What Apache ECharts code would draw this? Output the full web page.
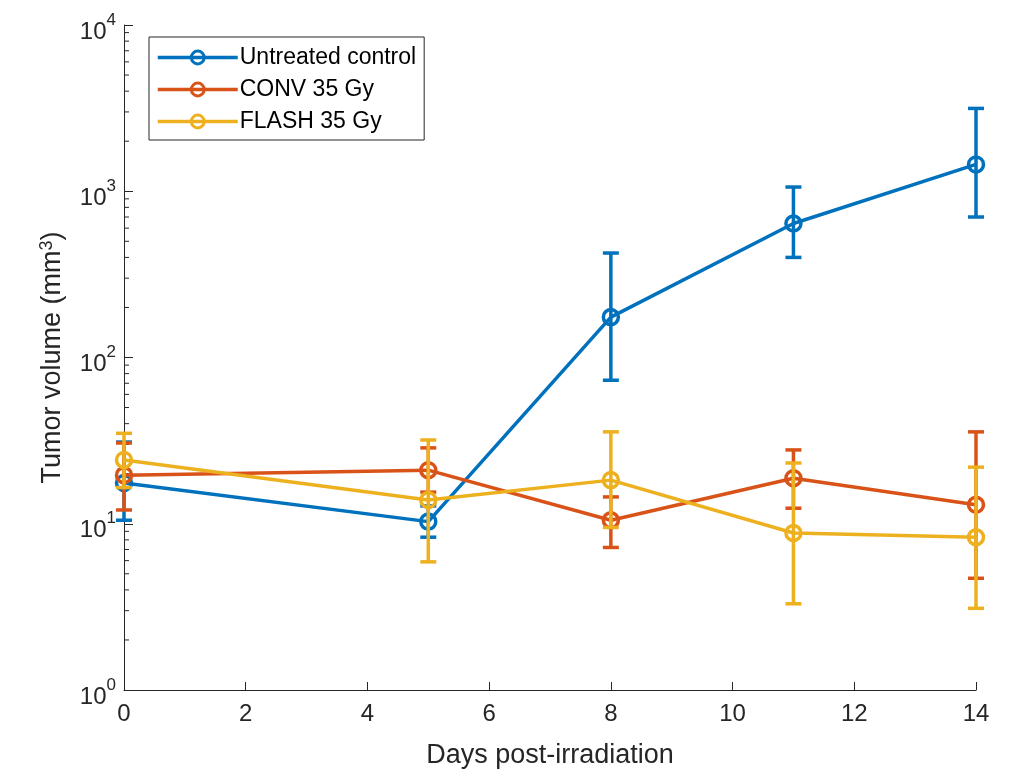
<!DOCTYPE html>
<html>
<head>
<meta charset="utf-8">
<script src="https://cdn.jsdelivr.net/npm/echarts@6/dist/echarts.min.js"></script>
<style>
html,body{margin:0;padding:0;background:#fff;}
#main{width:1015px;height:777px;}
</style>
</head>
<body>
<div id="main"></div>
<script>
// days after irradiation
var days = [0, 5, 8, 11, 14];

// untreated control : mean, lower and upper end of error bar
var ctrlMean = [17.6, 10.3, 175, 640, 1450];
var ctrlLo = [10.5, 8.3, 73, 400, 700];
var ctrlHi = [31, 12.8, 425, 1060, 3150];

// CONV 35 Gy
var convMean = [19.6, 21, 10.5, 18.8, 13];
var convLo = [12.1, 15.5, 7.2, 12.4, 4.7];
var convHi = [30.6, 28.6, 14.5, 27.8, 35.7];

// FLASH 35 Gy
var flashMean = [24.2, 13.9, 18.3, 8.8, 8.3];
var flashLo = [16.5, 5.9, 9.5, 3.3, 3.1];
var flashHi = [35, 31.9, 35.7, 23.2, 21.9];

var seriesNames = ['Untreated control', 'CONV 35 Gy', 'FLASH 35 Gy'];
var colors = ['#0072BD', '#D95319', '#EDB120'];

// minor ticks of the log axis (2..9 x 10^n)
var minorTickValues = [];
for (var n = 0; n < 4; n++) {
	for (var k = 2; k < 10; k++) {
		minorTickValues.push(k * Math.pow(10, n));
	}
}

function pairs(mean) {
	var out = [];
	for (var i = 0; i < days.length; i++) {
		out.push([days[i], mean[i]]);
	}
	return out;
}

function errData(lo, hi) {
	var out = [];
	for (var i = 0; i < days.length; i++) {
		out.push([days[i], lo[i], hi[i]]);
	}
	return out;
}

function errSeries(name, lo, hi, color, z) {
	return {
		name: name,
		type: 'custom',
		z: z,
		silent: true,
		data: errData(lo, hi),
		encode: { x: 0, y: [1, 2] },
		renderItem: function(params, api) {
			var top = api.coord([api.value(0), api.value(2)]);
			var bot = api.coord([api.value(0), api.value(1)]);
			var w = 8;
			var st = { stroke: color, lineWidth: 3.5 };
			return {
				type: 'group',
				children: [
					{ type: 'line', shape: { x1: top[0], y1: top[1], x2: bot[0], y2: bot[1] }, style: st },
					{ type: 'line', shape: { x1: top[0] - w, y1: top[1], x2: top[0] + w, y2: top[1] }, style: st },
					{ type: 'line', shape: { x1: bot[0] - w, y1: bot[1], x2: bot[0] + w, y2: bot[1] }, style: st }
				]
			};
		}
	};
}

function lineSeries(name, mean, color, z) {
	return {
		name: name,
		type: 'line',
		z: z,
		data: pairs(mean),
		symbol: 'circle',
		symbolSize: 15,
		lineStyle: { color: color, width: 3.5 },
		itemStyle: { color: 'rgba(255,255,255,0)', borderColor: color, borderWidth: 3.5 },
		emphasis: { disabled: true }
	};
}

var series = [
	lineSeries(seriesNames[0], ctrlMean, colors[0], 2),
	errSeries('err0', ctrlLo, ctrlHi, colors[0], 2),
	lineSeries(seriesNames[1], convMean, colors[1], 3),
	errSeries('err1', convLo, convHi, colors[1], 3),
	lineSeries(seriesNames[2], flashMean, colors[2], 4),
	errSeries('err2', flashLo, flashHi, colors[2], 4),
	{
		name: 'minorTicks',
		type: 'custom',
		silent: true,
		z: 1,
		data: minorTickValues.map(function(v) { return [0, v]; }),
		renderItem: function(params, api) {
			var p = api.coord([0, api.value(1)]);
			return {
				type: 'line',
				shape: { x1: p[0], y1: p[1], x2: p[0] + 5, y2: p[1] },
				style: { stroke: '#262626', lineWidth: 1 }
			};
		}
	}
];

var myChart = echarts.init(document.getElementById('main'));
myChart.setOption({
	backgroundColor: '#fff',
	animation: false,
	grid: { left: 124, right: 39, top: 25, bottom: 87 },
	legend: {
		data: seriesNames,
		orient: 'vertical',
		left: 149,
		top: 37,
		padding: [9, 8, 7, 7],
		itemWidth: 80,
		itemHeight: 16,
		itemGap: 9,
		borderColor: '#262626',
		borderWidth: 1,
		backgroundColor: '#fff',
		lineStyle: { width: 3.5 },
		itemStyle: { borderWidth: 3 },
		textStyle: { fontFamily: 'Liberation Sans', fontSize: 23, color: '#000', lineHeight: 23, padding: [0, 0, 0, -3] }
	},
	xAxis: {
		type: 'value',
		min: 0,
		max: 14,
		interval: 2,
		name: 'Days post-irradiation',
		nameLocation: 'middle',
		nameGap: 52,
		nameTextStyle: { fontFamily: 'Liberation Sans', fontSize: 27, color: '#262626' },
		axisLine: { lineStyle: { color: '#262626', width: 1 } },
		axisTick: { inside: true, length: 8, lineStyle: { color: '#262626' } },
		axisLabel: { fontFamily: 'Liberation Sans', fontSize: 24, color: '#262626', margin: 12 },
		splitLine: { show: false }
	},
	yAxis: {
		type: 'log',
		logBase: 10,
		min: 1,
		max: 10000,
		name: 'Tumor volume (mm{sup|3})',
		nameLocation: 'middle',
		nameGap: 56,
		nameTextStyle: {
			fontFamily: 'Liberation Sans', fontSize: 27, color: '#262626',
			rich: {
				sup: { fontFamily: 'Liberation Sans', fontSize: 18, color: '#262626', verticalAlign: 'bottom', padding: [0, 0, 12, 0] }
			}
		},
		axisLine: { show: true, lineStyle: { color: '#262626', width: 1 } },
		axisTick: { show: true, inside: true, length: 9, lineStyle: { color: '#262626' } },
		axisLabel: {
			margin: 8,
			color: '#262626',
			fontFamily: 'Liberation Sans',
			fontSize: 24,
			formatter: function(v) {
				var e = Math.round(Math.log10(v));
				return '{base|10}{sup|' + e + '}';
			},
			rich: {
				base: { fontFamily: 'Liberation Sans', fontSize: 24, color: '#262626', padding: [14, 0, 0, 0] },
				sup: { fontFamily: 'Liberation Sans', fontSize: 17, color: '#262626', padding: [0, 0, 10, 0] }
			}
		},
		splitLine: { show: false },
		minorTick: { show: false }
	},
	series: series
});
</script>
</body>
</html>
